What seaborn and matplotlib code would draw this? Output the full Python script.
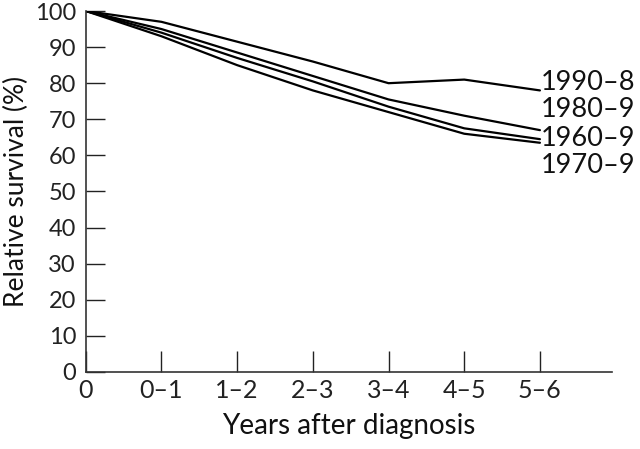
import numpy as np
import pandas as pd
import matplotlib
matplotlib.use("Agg")
import matplotlib.pyplot as plt
import seaborn as sns

# data
periods = ["0", "0\u20131", "1\u20132", "2\u20133", "3\u20134", "4\u20135", "5\u20136"]
cohorts = ["1990\u20138", "1980\u20139", "1960\u20139", "1970\u20139"]
surv_1990 = [100, 97, 91.5, 86, 80, 81, 78]
surv_1980 = [100, 95, 88.5, 82, 75.5, 71, 67]
surv_1960 = [100, 94, 87, 80.5, 73.5, 67.5, 64.5]
surv_1970 = [100, 93, 85, 78, 72, 66, 63.5]
label_y = [80.3, 72.6, 64.8, 57.1]

sns.set_theme(style="white")
plt.rcParams['font.family'] = ['Lato', 'DejaVu Sans']

rows = []
for name, vals in zip(cohorts, [surv_1990, surv_1980, surv_1960, surv_1970]):
    for i, v in enumerate(vals):
        rows.append({"x": i, "survival": v, "cohort": name})
df = pd.DataFrame(rows)

fig = plt.figure(figsize=(6.4, 4.49), dpi=100)
ax = fig.add_axes([0.134, 0.1715, 0.822, 0.804])

sns.lineplot(data=df, x="x", y="survival", hue="cohort",
             palette=["black"] * 4, linewidth=1.6, legend=False, ax=ax)

for name, yv in zip(cohorts, label_y):
    ax.text(6.01, yv, name, fontsize=19.5, va="center", ha="left",
            color="#111111", clip_on=False)

ax.set_xlim(0, 6.95)
ax.set_ylim(0, 100)
ax.set_xticks(range(len(periods)))
ax.set_xticklabels(periods)
ax.set_yticks(range(0, 101, 10))
ax.tick_params(axis="x", bottom=True, direction="in", length=15, width=1.0,
               pad=5, labelsize=18, colors="#222222")
ax.tick_params(axis="y", left=True, direction="in", length=14, width=1.0,
               pad=7, labelsize=17, colors="#222222")
ax.set_xlabel("Years after diagnosis", fontsize=20, color="#111111", labelpad=8)
ax.set_ylabel("Relative survival (%)", fontsize=19, color="#111111", labelpad=4)

for s in ["top", "right"]:
    ax.spines[s].set_visible(False)
for s in ["left", "bottom"]:
    ax.spines[s].set_color("#333333")
    ax.spines[s].set_linewidth(1.2)

fig.savefig("out.png", dpi=100)
